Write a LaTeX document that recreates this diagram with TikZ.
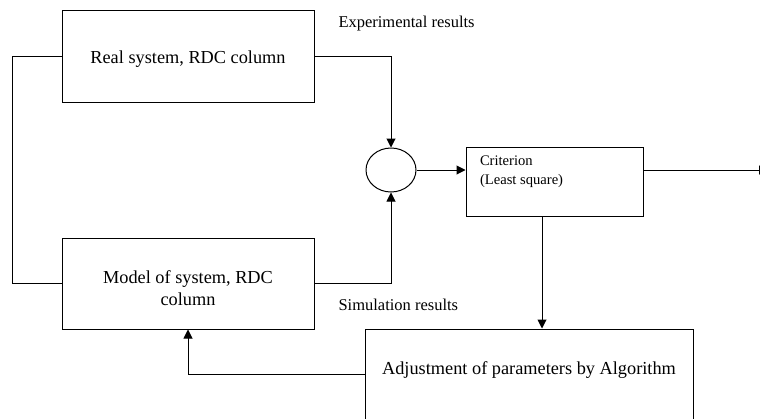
\documentclass[tikz,border=0pt]{standalone}
\usepackage{fontspec}
\setmainfont{Liberation Serif}
\usetikzlibrary{arrows.meta,shapes.geometric}
\begin{document}
\begin{tikzpicture}[x=1pt,y=-1pt,
  line width=1pt,
  arr/.style={-{Triangle[length=9pt,width=9pt]}},
  box/.style={draw,rectangle,inner sep=0pt},
  maintext/.style={font=\fontsize{18.3}{22}\selectfont},
  smalltext/.style={font=\fontsize{14.6}{19}\selectfont},
  lbltext/.style={font=\fontsize{16.5}{19}\selectfont}]
\useasboundingbox (0,0) rectangle (760,418);
\clip (0,0) rectangle (760,418);
\fill[white] (0,0) rectangle (760,418);
% boxes
\node[box,minimum width=252pt,minimum height=92pt,
  label={[maintext,anchor=center,yshift=-3pt]center:Real system, RDC column}] (real) at (188,56) {};
\node[box,minimum width=252pt,minimum height=91pt,
  label={[maintext,anchor=center,align=center,yshift=-5pt]center:Model of system, RDC\\column}] (model) at (188,283.5) {};
\node[draw,ellipse,minimum width=50pt,minimum height=44pt,inner sep=0pt] (sum) at (391,170) {};
\node[box,minimum width=177pt,minimum height=69pt,
  label={[smalltext,anchor=north west,align=left,inner sep=0pt,xshift=14pt,yshift=-8pt]north west:Criterion\\(Least square)}] (crit) at (554.5,182) {};
\node[box,minimum width=328pt,minimum height=121pt,
  label={[maintext,anchor=center,yshift=-42pt]north:Adjustment of parameters by Algorithm}] (adj) at (529,389.5) {};
% labels
\node[lbltext,anchor=west,inner sep=0pt] (exp) at (338,24) {Experimental results};
\node[lbltext,anchor=west,inner sep=0pt] (sim) at (338,305) {Simulation results};
% connectors
\coordinate (out) at (768,170);
\draw[arr] (real.east) -| (sum.north);
\draw[arr] (model.east) -| (sum.south);
\draw (real.west) -- ++(-49,0) |- (model.west);
\draw[arr] (sum.east) -- (sum.east -| crit.west);
\draw[arr] (crit.east |- sum.east) -- (out);
\draw[arr] ([xshift=-12.5pt]crit.south) -- ([xshift=-12.5pt]crit.south |- adj.north);
\draw[arr] ([yshift=-46pt]adj.north west) -| (model.south);
\end{tikzpicture}
\end{document}
